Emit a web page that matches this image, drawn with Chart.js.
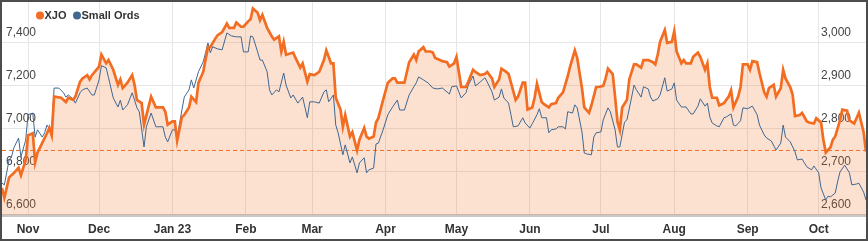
<!DOCTYPE html>
<html>
<head>
<meta charset="utf-8">
<script src="https://cdn.jsdelivr.net/npm/chart.js@4.4.0/dist/chart.umd.min.js"></script>
<style>
  html, body { margin: 0; padding: 0; background: #fff; }
  #wrap { width: 868px; height: 241px; box-sizing: border-box; border: 2px solid #4d4d4d; background: #fff; }
  canvas { display: block; }
</style>
</head>
<body>
<div id="wrap"><canvas id="chart" width="864" height="237"></canvas></div>
<script>
// one year of closes, day numbers counted from startDate
const startDate = '2022-10-21';
const endDate = '2023-10-21';

const monthStarts = ['2022-11-01', '2022-12-01', '2023-01-01', '2023-02-01', '2023-03-01', '2023-04-01',
  '2023-05-01', '2023-06-01', '2023-07-01', '2023-08-01', '2023-09-01', '2023-10-01'];
const monthLabels = ['Nov', 'Dec', 'Jan 23', 'Feb', 'Mar', 'Apr', 'May', 'Jun', 'Jul', 'Aug', 'Sep', 'Oct'];

const xjoTicks = [6600, 6800, 7000, 7200, 7400];
const ordsTicks = [2600, 2700, 2800, 2900, 3000];
const refLevel = 6900;

const xjoDays = [
  0, 1, 3, 5, 7, 8, 10, 11, 13, 14,
  15, 17, 19, 20, 21, 22, 25, 27, 28, 30,
  31, 33, 34, 36, 37, 38, 41, 42, 44, 45,
  47, 49, 50, 51, 53, 55, 56, 57, 59, 60,
  63, 65, 68, 69, 70, 72, 73, 74, 76, 77,
  79, 80, 82, 83, 85, 87, 88, 89, 91, 93,
  95, 96, 98, 99, 101, 102, 104, 105, 106, 108,
  109, 110, 112, 114, 115, 117, 118, 119, 120, 123,
  124, 126, 127, 129, 130, 132, 134, 136, 137, 139,
  140, 141, 143, 144, 145, 147, 148, 150, 151, 153,
  154, 155, 157, 158, 159, 161, 163, 165, 166, 167,
  170, 172, 174, 175, 176, 178, 179, 181, 182, 183,
  185, 186, 188, 189, 191, 192, 193, 194, 196, 197,
  199, 200, 202, 204, 205, 207, 208, 210, 211, 213,
  214, 215, 217, 218, 220, 221, 222, 224, 225, 226,
  228, 229, 231, 232, 234, 235, 237, 239, 240, 242,
  243, 245, 246, 248, 249, 251, 252, 254, 255, 256,
  258, 259, 260, 261, 262, 264, 265, 267, 268, 270,
  271, 273, 275, 276, 277, 278, 280, 281, 283, 284,
  285, 287, 288, 289, 291, 292, 294, 295, 297, 298,
  299, 300, 302, 303, 305, 307, 308, 309, 311, 312,
  313, 315, 316, 317, 319, 320, 322, 323, 324, 326,
  327, 329, 330, 331, 333, 334, 335, 337, 338, 340,
  341, 343, 344, 346, 347, 348, 350, 351, 352, 354,
  355, 357, 358, 360, 361, 362, 364, 365
];
const xjoValues = [
  6725, 6680, 6775, 6795, 6820, 6785, 6855, 6970, 6980, 6845,
  6890, 6935, 6980, 7005, 6970, 7150, 7145, 7125, 7145, 7135,
  7150, 7220, 7235, 7250, 7230, 7250, 7290, 7345, 7305, 7320,
  7275, 7205, 7230, 7190, 7215, 7250, 7205, 7135, 7120, 7020,
  7150, 7100, 7100, 7080, 7020, 7035, 7035, 6945, 7055, 7065,
  7100, 7150, 7125, 7215, 7265, 7380, 7380, 7400, 7435, 7450,
  7490, 7470, 7470, 7495, 7475, 7475, 7500, 7510, 7560, 7540,
  7505, 7530, 7470, 7430, 7415, 7430, 7360, 7405, 7345, 7355,
  7330, 7285, 7305, 7220, 7255, 7250, 7265, 7320, 7365, 7305,
  7305, 7145, 7090, 7010, 7065, 6965, 6985, 6900, 6950, 7005,
  6965, 6955, 6965, 7030, 7050, 7135, 7215, 7235, 7235, 7215,
  7215, 7310, 7345, 7320, 7360, 7380, 7360, 7360, 7355, 7330,
  7320, 7315, 7310, 7290, 7305, 7335, 7265, 7195, 7195, 7220,
  7275, 7265, 7250, 7255, 7265, 7235, 7195, 7230, 7280, 7265,
  7255, 7215, 7135, 7150, 7215, 7215, 7090, 7100, 7145, 7210,
  7125, 7115, 7100, 7115, 7120, 7145, 7170, 7245, 7290, 7365,
  7330, 7190, 7100, 7075, 7110, 7195, 7195, 7200, 7235, 7280,
  7255, 7150, 7035, 6995, 7100, 7135, 7230, 7300, 7300, 7285,
  7320, 7320, 7310, 7300, 7345, 7405, 7460, 7400, 7405, 7455,
  7360, 7305, 7320, 7305, 7305, 7335, 7355, 7335, 7275, 7305,
  7195, 7145, 7145, 7110, 7120, 7150, 7180, 7100, 7150, 7195,
  7300, 7300, 7275, 7315, 7310, 7260, 7170, 7150, 7190, 7205,
  7150, 7190, 7275, 7235, 7195, 7160, 7060, 7065, 7075, 7035,
  7030, 7025, 7050, 7030, 6950, 6890, 6915, 6950, 6965, 7040,
  7090, 7085, 7040, 7025, 7050, 7075, 6985, 6895
];

const ordsDays = [
  0, 1, 3, 4, 5, 7, 8, 10, 11, 13,
  14, 15, 17, 18, 19, 21, 22, 24, 26, 27,
  28, 30, 31, 33, 34, 36, 38, 39, 41, 42,
  44, 45, 47, 49, 50, 51, 53, 55, 56, 57,
  58, 60, 61, 63, 65, 68, 69, 70, 72, 73,
  74, 76, 77, 79, 80, 81, 83, 85, 86, 87,
  88, 89, 91, 93, 95, 97, 99, 101, 102, 104,
  105, 106, 108, 109, 110, 112, 113, 114, 116, 117,
  119, 120, 122, 123, 125, 126, 127, 129, 130, 132,
  134, 136, 137, 138, 140, 141, 142, 144, 145, 147,
  148, 150, 151, 153, 154, 155, 157, 158, 159, 161,
  163, 165, 167, 168, 170, 172, 174, 175, 176, 178,
  180, 182, 184, 186, 188, 189, 190, 192, 193, 194,
  196, 197, 199, 200, 202, 204, 205, 207, 208, 210,
  211, 212, 214, 215, 216, 218, 220, 221, 223, 224,
  226, 227, 228, 230, 231, 232, 234, 235, 237, 238,
  239, 241, 242, 243, 245, 246, 247, 249, 250, 251,
  253, 254, 256, 257, 259, 260, 261, 263, 264, 266,
  267, 268, 270, 271, 273, 274, 275, 277, 278, 280,
  281, 283, 284, 285, 287, 288, 289, 291, 292, 294,
  295, 297, 298, 299, 300, 302, 303, 305, 306, 308,
  309, 310, 312, 313, 315, 317, 319, 320, 322, 323,
  325, 327, 329, 330, 331, 333, 335, 336, 338, 339,
  340, 342, 343, 345, 346, 348, 349, 350, 352, 353,
  354, 356, 358, 359, 361, 362, 364, 365
];
const ordsValues = [
  2674, 2670, 2728, 2735, 2756, 2779, 2735, 2774, 2833, 2837,
  2781, 2798, 2781, 2791, 2809, 2793, 2895, 2895, 2884, 2874,
  2879, 2870, 2860, 2884, 2891, 2895, 2879, 2879, 2914, 2947,
  2942, 2919, 2872, 2851, 2867, 2844, 2856, 2884, 2867, 2849,
  2840, 2758, 2805, 2837, 2805, 2805, 2781, 2770, 2798, 2798,
  2781, 2844, 2874, 2891, 2914, 2895, 2933, 2956, 2977, 3000,
  2977, 2991, 2986, 2984, 3023, 3016, 3014, 3014, 2979, 2979,
  3016, 3014, 2979, 2960, 2960, 2933, 2891, 2879, 2891, 2886,
  2930, 2902, 2872, 2879, 2860, 2867, 2874, 2826, 2863, 2863,
  2860, 2886, 2891, 2863, 2879, 2809, 2791, 2740, 2763, 2721,
  2735, 2698, 2721, 2733, 2698, 2705, 2709, 2765, 2767, 2798,
  2833, 2851, 2867, 2844, 2844, 2879, 2898, 2907, 2921, 2914,
  2907, 2895, 2893, 2895, 2886, 2881, 2898, 2900, 2886, 2872,
  2884, 2902, 2923, 2900, 2909, 2919, 2909, 2886, 2867, 2874,
  2893, 2872, 2860, 2833, 2805, 2807, 2826, 2814, 2802, 2812,
  2833, 2847, 2826, 2826, 2791, 2798, 2800, 2805, 2805, 2800,
  2840, 2837, 2856, 2849, 2793, 2744, 2742, 2740, 2781, 2791,
  2793, 2821, 2849, 2840, 2798, 2758, 2758, 2816, 2821, 2874,
  2902, 2891, 2874, 2898, 2893, 2874, 2865, 2870, 2879, 2919,
  2888, 2893, 2907, 2867, 2851, 2851, 2851, 2835, 2835, 2853,
  2870, 2853, 2860, 2828, 2814, 2807, 2805, 2826, 2828, 2835,
  2809, 2807, 2819, 2849, 2847, 2853, 2833, 2809, 2786, 2779,
  2772, 2751, 2767, 2809, 2781, 2770, 2747, 2728, 2730, 2721,
  2712, 2705, 2714, 2698, 2663, 2635, 2644, 2642, 2651, 2677,
  2700, 2716, 2698, 2670, 2672, 2674, 2653, 2635
];

const ORANGE = '#f26d21';
const BLUE = '#3f6792';
const FONT = '"Liberation Sans", Arial, Helvetica, sans-serif';

const dayOf = s => (Date.parse(s) - Date.parse(startDate)) / 864e5;
const lastDay = dayOf(endDate);
const toPoints = (days, vals) => days.map((d, i) => ({ x: d, y: vals[i] }));

// axes sit inside the plot, so they should not steal any room
function flatten(scale) {
  scale.paddingTop = scale.paddingBottom = scale.paddingLeft = scale.paddingRight = 0;
}

// legend drawn over the top-left corner of the plot
const insideLegend = {
  id: 'insideLegend',
  afterDraw(chart) {
    const ctx = chart.ctx;
    let x = chart.chartArea.left + 34;
    const y = chart.chartArea.top + 13.5;
    ctx.save();
    ctx.font = 'bold 11px ' + FONT;
    ctx.textBaseline = 'middle';
    chart.data.datasets.forEach(ds => {
      if (!ds.inLegend) return;
      ctx.fillStyle = ds.borderColor;
      ctx.beginPath();
      ctx.arc(x + 4, y, 4, 0, Math.PI * 2);
      ctx.fill();
      ctx.fillStyle = '#333';
      ctx.fillText(ds.label, x + 8.5, y + 0.5);
      x += 8.5 + ctx.measureText(ds.label).width + 6.5;
    });
    ctx.restore();
  }
};

Chart.defaults.font.family = FONT;

new Chart(document.getElementById('chart'), {
  type: 'line',
  data: {
    datasets: [
      {
        label: 'XJO',
        data: toPoints(xjoDays, xjoValues),
        yAxisID: 'y',
        borderColor: ORANGE,
        borderWidth: 2.7,
        backgroundColor: 'rgba(242,109,33,0.21)',
        fill: 'start',
        pointRadius: 0,
        tension: 0,
        inLegend: true,
        order: 1
      },
      {
        label: 'Small Ords',
        data: toPoints(ordsDays, ordsValues),
        yAxisID: 'y1',
        borderColor: BLUE,
        borderWidth: 1,
        fill: false,
        pointRadius: 0,
        tension: 0,
        inLegend: true,
        order: 2
      },
      {
        label: 'reference',
        data: [{ x: 0, y: refLevel }, { x: lastDay, y: refLevel }],
        yAxisID: 'y',
        borderColor: ORANGE,
        borderWidth: 1,
        borderDash: [4, 3],
        fill: false,
        pointRadius: 0,
        order: 3
      }
    ]
  },
  options: {
    responsive: false,
    devicePixelRatio: 1,
    animation: false,
    layout: { padding: 0 },
    plugins: {
      legend: { display: false },
      tooltip: { enabled: false },
      filler: { drawTime: 'beforeDatasetsDraw' }
    },
    scales: {
      x: {
        type: 'linear',
        min: 0,
        max: lastDay,
        afterBuildTicks: s => { s.ticks = monthStarts.map(m => ({ value: dayOf(m) })); },
        afterFit: s => { flatten(s); s.height = 24; },
        ticks: {
          autoSkip: false,
          maxRotation: 0,
          padding: 7,
          color: '#333',
          font: { size: 12, weight: 'bold' },
          callback: (v, i) => monthLabels[i]
        },
        grid: { color: '#e6e6e6', drawTicks: false },
        border: { color: '#c8c8c8', width: 3 }
      },
      y: {
        position: 'left',
        min: 6600,
        max: 7590,
        afterBuildTicks: s => { s.ticks = xjoTicks.map(v => ({ value: v })); },
        afterFit: s => { flatten(s); s.width = 0; },
        ticks: {
          mirror: true,
          padding: 4,
          labelOffset: -10,
          color: '#444',
          font: { size: 12 },
          callback: v => v.toLocaleString('en-US')
        },
        grid: { color: '#e6e6e6', drawTicks: false },
        border: { display: false }
      },
      y1: {
        position: 'right',
        min: 2600,
        max: 3095,
        afterBuildTicks: s => { s.ticks = ordsTicks.map(v => ({ value: v })); },
        afterFit: s => { flatten(s); s.width = 0; },
        ticks: {
          mirror: true,
          padding: -15,
          labelOffset: -10,
          color: '#444',
          font: { size: 12 },
          callback: v => v.toLocaleString('en-US')
        },
        grid: { display: false },
        border: { display: false }
      }
    }
  },
  plugins: [insideLegend]
});
</script>
</body>
</html>
